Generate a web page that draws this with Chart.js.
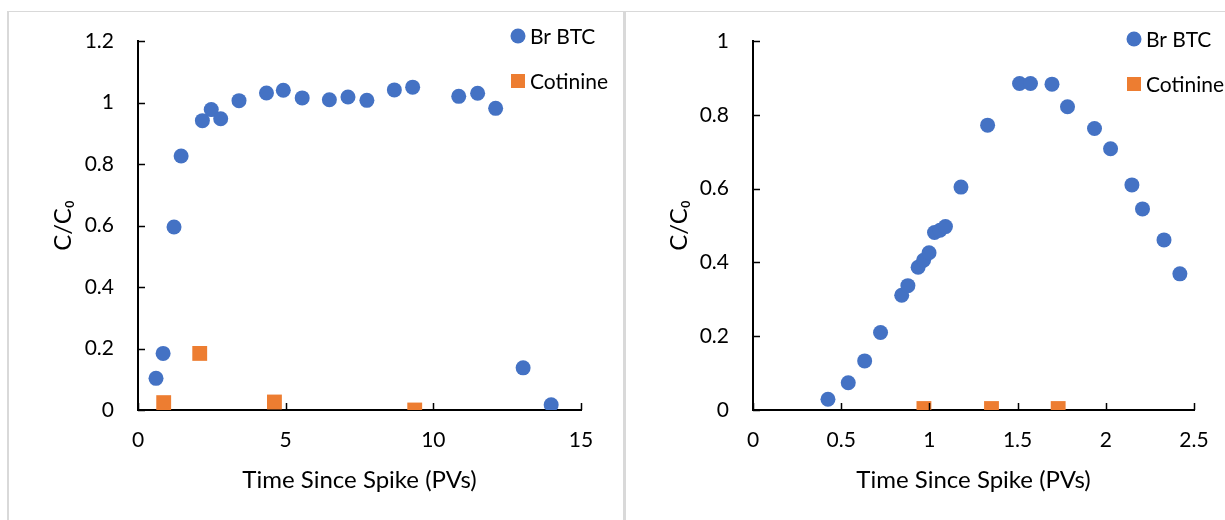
<!DOCTYPE html>
<html>
<head>
	<title>Br BTC and Cotinine</title>
	<script src="https://cdn.jsdelivr.net/npm/chart.js@4.4.0/dist/chart.umd.min.js"></script>
	<meta charset="utf-8"/>
	<style>
		body { margin: 0; background: #fff; width: 1225px; height: 520px; overflow: hidden; position: relative; }
		.panel { position: absolute; top: 11px; height: 509px; border-top: 1px solid #d9d9d9; box-sizing: border-box; }
		#left { left: 7px; width: 616px; border-left: 2px solid #d9d9d9; }
		#right { left: 623px; width: 602px; border-left: 3px solid #d9d9d9; }
		canvas { position: absolute; left: 0; top: 0; }
	</style>
</head>
<body>
	<div class="panel" id="left"><canvas id="chartLeft" width="614" height="508"></canvas></div>
	<div class="panel" id="right"><canvas id="chartRight" width="599" height="508"></canvas></div>

	<script>
		// left chart: long run
		var brTimeA = [0.61, 0.85, 1.22, 1.46, 2.18, 2.48, 2.80, 3.42, 4.35, 4.92, 5.56, 6.48, 7.11, 7.75, 8.68, 9.30, 10.86, 11.50, 12.11, 13.04, 13.99];
		var brConcA = [0.103, 0.184, 0.595, 0.826, 0.941, 0.977, 0.947, 1.006, 1.031, 1.040, 1.015, 1.009, 1.018, 1.007, 1.041, 1.050, 1.020, 1.030, 0.981, 0.137, 0.017];
		var cotTimeA = [0.87, 2.09, 4.62, 9.37];
		var cotConcA = [0.024, 0.184, 0.026, 0.0];

		// right chart: short run
		var brTimeB = [0.425, 0.540, 0.633, 0.723, 0.843, 0.878, 0.936, 0.967, 0.998, 1.029, 1.060, 1.091, 1.179, 1.330, 1.511, 1.573, 1.695, 1.783, 1.936, 2.027, 2.148, 2.208, 2.330, 2.420];
		var brConcB = [0.029, 0.074, 0.133, 0.210, 0.311, 0.337, 0.387, 0.406, 0.426, 0.481, 0.487, 0.497, 0.604, 0.772, 0.885, 0.885, 0.883, 0.822, 0.763, 0.708, 0.610, 0.545, 0.461, 0.369];
		var cotTimeB = [0.969, 1.352, 1.730];
		var cotConcB = [0.004, 0.004, 0.004];

		var seriesNames = ['Br BTC', 'Cotinine'];
		var xTitle = 'Time Since Spike (PVs)';
		var yTitle = 'C/C\u2080';

		var blue = '#4472C4';
		var orange = '#ED7D31';
		var fontFamily = "Lato, 'Noto Sans', sans-serif";

		function pairs(xs, ys) {
			var out = [];
			for (var i = 0; i < xs.length; i++) {
				out.push({x: xs[i], y: ys[i]});
			}
			return out;
		}

		// plain number labels: 1 not 1.0
		function plainLabel(value) {
			return String(parseFloat(value.toFixed(2)));
		}

		// inward tick marks, like the spreadsheet chart
		var innerTicks = {
			id: 'innerTicks',
			afterDatasetsDraw: function (chart) {
				var ctx = chart.ctx;
				var xs = chart.scales.x, ys = chart.scales.y;
				ctx.save();
				ctx.strokeStyle = '#000';
				ctx.lineWidth = 1.5;
				ctx.beginPath();
				xs.ticks.forEach(function (t, i) {
					var px = Math.round(xs.getPixelForTick(i)) + 0.5;
					ctx.moveTo(px, ys.bottom);
					ctx.lineTo(px, ys.bottom - 7);
				});
				ys.ticks.forEach(function (t, i) {
					var py = Math.round(ys.getPixelForTick(i)) + 0.5;
					ctx.moveTo(xs.left, py);
					ctx.lineTo(xs.left + 7, py);
				});
				ctx.stroke();
				ctx.restore();
			}
		};

		// legend drawn at a fixed spot over the plot, as in the source
		var floatLegend = {
			id: 'floatLegend',
			afterDraw: function (chart, args, opts) {
				var ctx = chart.ctx;
				ctx.save();
				ctx.font = '21px ' + fontFamily;
				ctx.textBaseline = 'middle';
				chart.data.datasets.forEach(function (ds, i) {
					var y = opts.y + i * opts.gap;
					ctx.fillStyle = ds.backgroundColor;
					if (ds.pointStyle === 'rect') {
						ctx.fillRect(opts.x - 7, y - 7, 14, 14);
					} else {
						ctx.beginPath();
						ctx.arc(opts.x, y, 7.5, 0, Math.PI * 2);
						ctx.fill();
					}
					ctx.fillStyle = '#000';
					ctx.fillText(ds.label, opts.x + 12, y + 1);
				});
				ctx.restore();
			}
		};

		function makeChart(canvasId, brX, brY, cotX, cotY, xMax, xStep, yMax, axisLeft, padRight, legendPos, yTitlePad) {
			return new Chart(document.getElementById(canvasId), {
				type: 'scatter',
				data: {
					datasets: [
						{
							label: seriesNames[0],
							data: pairs(brX, brY),
							pointStyle: 'circle',
							pointRadius: 7.5,
							pointHoverRadius: 7.5,
							backgroundColor: blue,
							borderColor: blue,
							borderWidth: 0
						},
						{
							label: seriesNames[1],
							data: pairs(cotX, cotY),
							pointStyle: 'rect',
							pointRadius: 10.5,
							pointHoverRadius: 10.5,
							backgroundColor: orange,
							borderColor: orange,
							borderWidth: 0
						}
					]
				},
				options: {
					responsive: false,
					animation: false,
					events: [],
					layout: { padding: { top: 29, right: padRight, left: 0, bottom: 0 } },
					plugins: {
						legend: { display: false },
						tooltip: { enabled: false },
						floatLegend: legendPos
					},
					scales: {
						x: {
							type: 'linear',
							min: 0,
							max: xMax,
							ticks: { stepSize: xStep, padding: 18, color: '#000', font: { family: fontFamily, size: 21 }, maxRotation: 0, callback: plainLabel },
							grid: { display: false, drawTicks: false, tickLength: 0 },
							border: { display: true, color: '#000', width: 2 },
							title: { display: true, text: xTitle, color: '#000', font: { family: fontFamily, size: 24 }, padding: { top: 0, bottom: 25 } },
							afterFit: function (s) { s.height = 110; s.paddingLeft = 0; s.paddingRight = 0; }
						},
						y: {
							type: 'linear',
							min: 0,
							max: yMax,
							ticks: { stepSize: 0.2, padding: 24, color: '#000', font: { family: fontFamily, size: 21 }, callback: plainLabel },
							grid: { display: false, drawTicks: false, tickLength: 0 },
							border: { display: true, color: '#000', width: 2 },
							title: { display: true, text: yTitle, color: '#000', font: { family: fontFamily, size: 24 }, padding: { top: yTitlePad, bottom: 0 } },
							afterFit: function (s) { s.width = axisLeft; s.paddingTop = 0; s.paddingBottom = 0; }
						}
					}
				},
				plugins: [innerTicks, floatLegend]
			});
		}

		makeChart('chartLeft', brTimeA, brConcA, cotTimeA, cotConcA, 15, 5, 1.2, 129, 42, { x: 509, y: 24, gap: 45 }, 40);
		makeChart('chartRight', brTimeB, brConcB, cotTimeB, cotConcB, 2.5, 0.5, 1, 127, 31, { x: 508, y: 27, gap: 45 }, 39);
	</script>
</body>
</html>
